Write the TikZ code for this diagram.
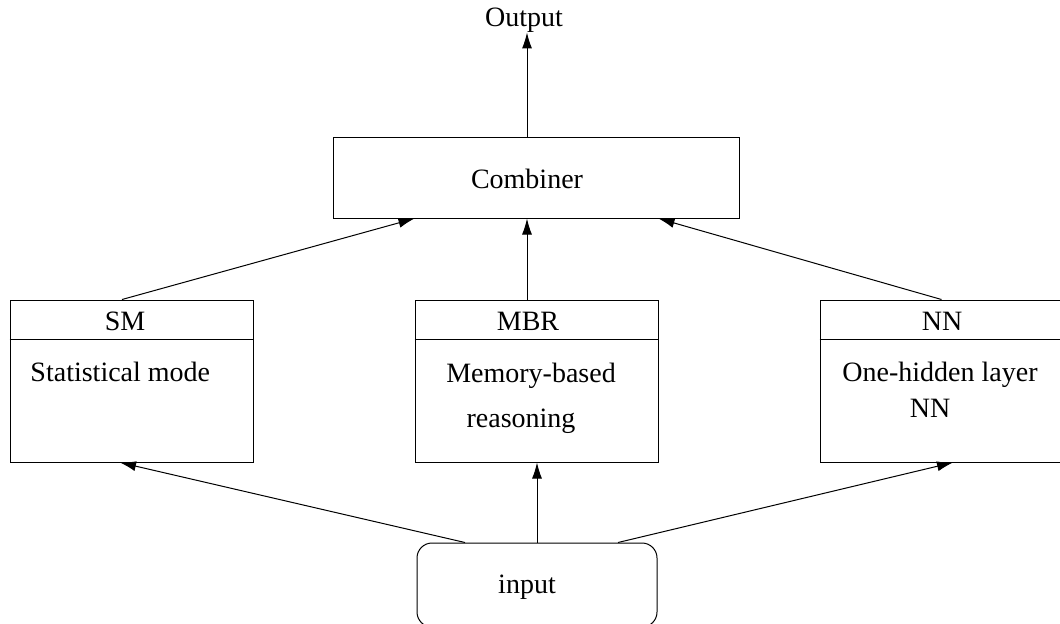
\documentclass[tikz,border=0pt]{standalone}
\usepackage{fontspec}
\setmainfont{Liberation Serif}
\usetikzlibrary{arrows.meta,calc}

\begin{document}
\begin{tikzpicture}[x=0.5pt, y=-0.5pt, line width=0.5pt,
    font=\fontsize{14}{17}\selectfont,
    >={Latex[length=8pt,width=5pt]},
    modbox/.style={rectangle, draw, minimum width=121.5pt, minimum height=81pt, inner sep=0pt},
    lbl/.style={anchor=base, inner sep=0pt}]
    \useasboundingbox (0,0) rectangle (1060,623);

    % Combiner and output
    \node [rectangle, draw, minimum width=203pt, minimum height=40.5pt, inner sep=0pt] (comb) at (536,177.5) {};
    \node [lbl] (combt) at (527,188) {Combiner};
    \node [lbl] (out) at (524,26) {Output};

    % Models
    \node [modbox] (sm) at (131.5,381) {};
    \node [modbox] (mbr) at (536.5,381) {};
    \node [modbox] (nn) at (941.5,381) {};
    \foreach \m in {sm,mbr,nn}
        \draw ([yshift=-20pt]\m.north west) -- ([yshift=-20pt]\m.north east);

    % Model titles and descriptions
    \node [lbl] (smt) at (125,330) {SM};
    \node [lbl] (mbrt) at (528,330) {MBR};
    \node [lbl] (nnt) at (942,330) {NN};
    \node [lbl, anchor=base west] (smd) at (30,381) {Statistical mode};
    \node [lbl] (mbrd) at (531,382) {Memory-based};
    \node [lbl] (mbre) at (521,427) {reasoning};
    \node [lbl] (nnd) at (940,381) {One-hidden layer};
    \node [lbl] (nne) at (930,417) {NN};

    % Input
    \node [rectangle, draw, rounded corners=7.5pt, minimum width=120pt, minimum height=42pt, inner sep=0pt] (input) at (537,585) {};
    \node [lbl] (inpt) at (527,593) {input};

    % Arrows
    \draw[->] (comb.north -| 527,0) -- (out.south -| 527,0);
    \draw[->] ($(sm.north)+(-9.5,0)$) -- (comb.south -| mbr.west);
    \draw[->] (mbr.north -| 527,0) -- (comb.south -| 527,0);
    \draw[->] (nn.north) -- (comb.south -| mbr.east);
    \draw[->] ($(input.north)+(-72,0)$) -- ($(sm.south)+(-11.5,0)$);
    \draw[->] (input.north) -- (mbr.south -| input.north);
    \draw[->] ($(input.north)+(81,0)$) -- ($(nn.south)+(11.5,0)$);
\end{tikzpicture}
\end{document}
